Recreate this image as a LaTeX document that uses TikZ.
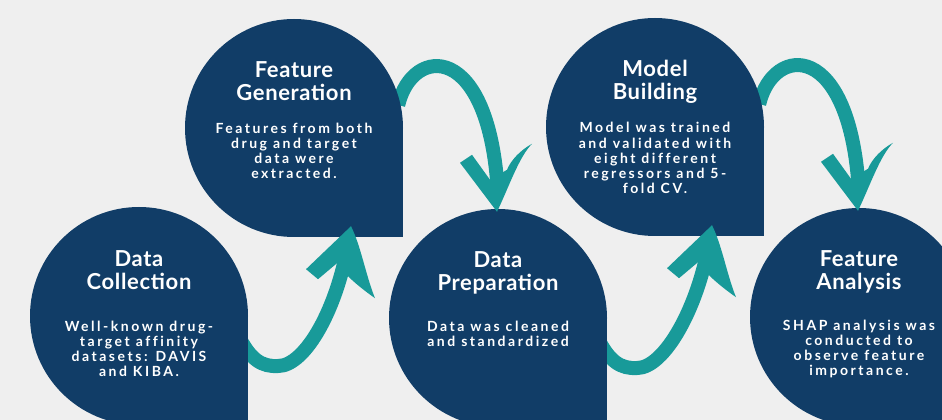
\documentclass[tikz,border=0pt]{standalone}
\usepackage{fontspec}
\setmainfont{Lato}
\newfontfamily\titlefont{Lato}[LetterSpace=3]
\newfontfamily\bodyfont{Lato}[LetterSpace=18,Ligatures=NoCommon]
\usetikzlibrary{backgrounds}
\definecolor{paper}{HTML}{EFEFEF}
\definecolor{navy}{HTML}{113D67}
\definecolor{sea}{HTML}{189A99}

\begin{document}
\begin{tikzpicture}[x=1pt,y=1pt,
	drop/.style={circle,fill=navy,minimum size=218pt,inner sep=0pt},
	head/.style={text=white,align=center,anchor=base,font=\titlefont\bfseries\fontsize{22}{23}\selectfont},
	blurb/.style={text=white,align=center,anchor=base,font=\bodyfont\bfseries\fontsize{14}{15.3}\selectfont},
	shaft/.style={draw=sea,line width=14pt}]
	\useasboundingbox (0,0) rectangle (942,420);
	\begin{scope}[on background layer]
		\fill[paper] (0,0) rectangle (942,420);
	\end{scope}
	% the five steps, each a drop with a square lower right corner
	\node[drop] (dc) at (139,104) {};
	\node[drop] (fg) at (294,292) {};
	\node[drop] (dp) at (498,102) {};
	\node[drop] (mb) at (655,293) {};
	\node[drop] (fa) at (859,103) {};
	\foreach \n in {dc,fg,dp,mb,fa}\fill[navy] (\n.center) rectangle (\n.east |- \n.south);
	% titles and text (base = last line)
	\node[head] (dc-t) at ([yshift=26pt]dc.center) {Data\\Collection};
	\node[blurb] (dc-b) at ([yshift=-61pt]dc.center) {Well-known drug-\\target affinity\\datasets: DAVIS\\and KIBA.};
	\node[head] (fg-t) at ([yshift=27pt]fg.center) {Feature\\Generation};
	\node[blurb] (fg-b) at ([yshift=-51pt]fg.center) {Features from both\\drug and target\\data were\\extracted.};
	\node[head] (dp-t) at ([yshift=27pt]dp.center) {Data\\Preparation};
	\node[blurb] (dp-b) at ([yshift=-29pt]dp.center) {Data was cleaned\\and standardized};
	\node[head] (mb-t) at ([yshift=27pt]mb.center) {Model\\Building};
	\node[blurb] (mb-b) at ([yshift=-67pt]mb.center) {Model was trained\\and validated with\\eight different\\regressors and 5-\\fold CV.};
	\node[head] (fa-t) at ([yshift=27pt]fa.center) {Feature\\Analysis};
	\node[blurb] (fa-b) at ([yshift=-59pt]fa.center) {SHAP analysis was\\conducted to\\observe feature\\importance.};
	% arrows going up
	\foreach \a/\b in {dc/fg,dp/mb}{
		\begin{scope}[on background layer]
			\draw[shaft] ([shift={(-10,-19)}]\a.east) .. controls +(12,-25) and +(-16,-1) .. ++(40,-31)
				.. controls +(27,0) and +(-11,-70) .. ([shift={(55,-1)}]\b.south);
		\end{scope}
		\begin{scope}[shift={([shift={(57,11)}]\b.south)}]
			\fill[sea] (0,0) .. controls (10,-20) and (15,-50) .. (24,-72)
				.. controls (14,-65) and (4,-57) .. (-3,-50) -- (-14,-37) -- (-33,-53) -- (-45,-43) -- cycle;
		\end{scope}
	}
	% arrows going down
	\foreach \a/\b in {fg/dp,mb/fa}{
		\begin{scope}[on background layer]
			\draw[shaft] ([shift={(-5,23)}]\a.east) .. controls +(14,60) and +(-8,155) .. ([shift={(0,14)}]\b.north);
		\end{scope}
		\begin{scope}[shift={([shift={(-1,-3)}]\b.north)}]
			\fill[sea] (0,0) .. controls (12,25) and (22,55) .. (35,68)
				.. controls (24,62) and (14,52) .. (10,42) -- (-7,32) -- (-25,57) -- (-37,49) -- cycle;
		\end{scope}
	}
\end{tikzpicture}
\end{document}
